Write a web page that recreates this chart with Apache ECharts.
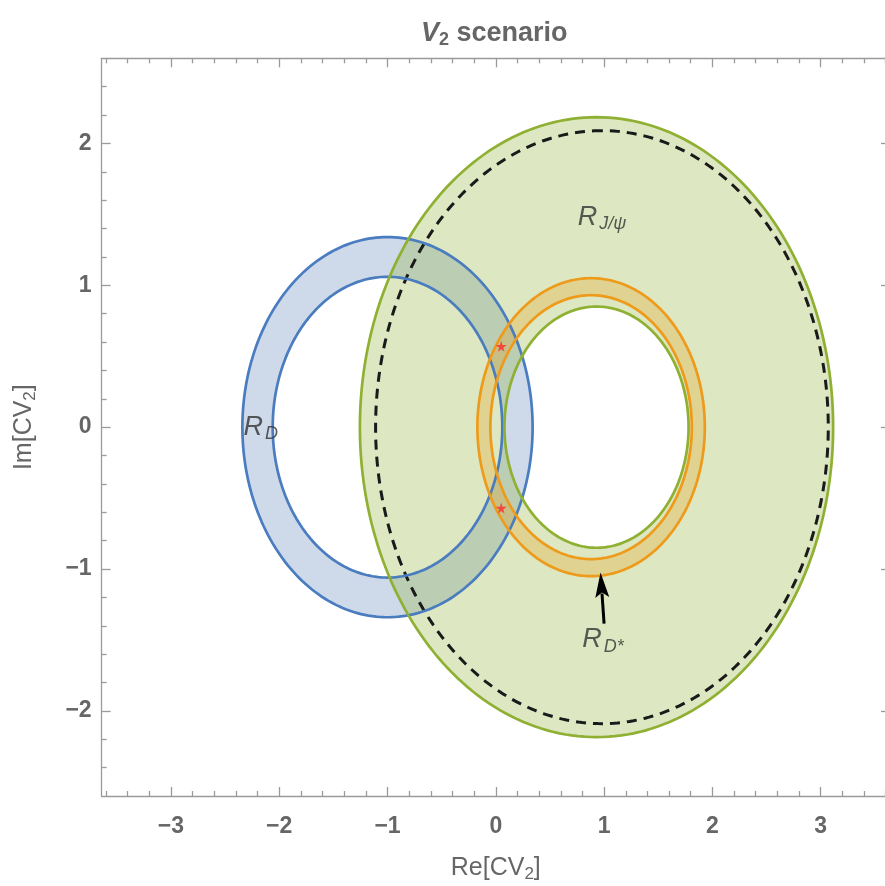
<!DOCTYPE html>
<html>
<head>
<meta charset="utf-8">
<script src="https://cdn.jsdelivr.net/npm/echarts@6/dist/echarts.min.js"></script>
<style>
html, body { margin: 0; padding: 0; background: #fff; }
#chart { width: 885px; height: 886px; }
</style>
</head>
<body>
<div id="chart"></div>
<script>
var xRange = [-3.64, 3.64];
var yRange = [-2.6, 2.6];
var xMajor = [-3, -2, -1, 0, 1, 2, 3];
var yMajor = [-2, -1, 0, 1, 2];

// annuli: centre, inner radius, outer radius  (R_D, R_J/psi, R_D*)
var ringCx = [-1.0, 0.93, 0.88];
var ringCy = [0, 0, 0];
var ringInner = [1.06, 0.85, 0.93];
var ringOuter = [1.34, 2.185, 1.05];

// dashed circle: centre x, centre y, radius
var dashCircle = [0.98, 0, 2.09];

var starX = [0.05, 0.05];
var starY = [0.57, -0.57];

var labelText = ['{r|R}{s|D}', '{r|R}{s|J/\u03c8}', '{r|R}{s|D*}'];
var labelX = [-2.17, 0.98, 0.99];
var labelY = [0, 1.48, -1.5];

// arrow: from (x, y) to (x, y)
var arrow = [1.0, -1.385, 0.967, -1.025];

var ringFill = ['rgba(94,129,181,0.3)', 'rgba(143,176,50,0.3)', 'rgba(230,158,30,0.3)'];
var ringLine = ['#4a7cc0', '#8fb032', '#ee9b1c'];

var minorX = [], minorY = [];
for (var k = -18; k <= 18; k++) { if (k % 5 !== 0) minorX.push(k / 5); }
for (var k = -12; k <= 12; k++) { if (k % 5 !== 0) minorY.push(k / 5); }

var frameColor = '#9a9a9a';
var labelStyle = { color: '#666', fontWeight: 'bold', fontSize: 23, fontFamily: 'Liberation Sans' };

function fmt(v) { return String(v).replace('-', '\u2212'); }

function axis(pos, range, ticks, len, withLine, labelMargin, extra) {
    var a = {
        type: 'value', position: pos, min: range[0], max: range[1],
        splitLine: { show: false },
        axisLine: { show: withLine, onZero: false, lineStyle: { color: frameColor, width: 1.3 } },
        axisTick: { show: true, inside: true, length: len, customValues: ticks, lineStyle: { color: frameColor, width: 1.3 } },
        axisLabel: labelMargin ? Object.assign({ show: true, customValues: ticks, formatter: fmt, margin: labelMargin }, labelStyle) : { show: false }
    };
    return Object.assign(a, extra || {});
}

var nameStyle = {
    color: '#666', fontSize: 25, fontFamily: 'Liberation Sans',
    rich: { s: { color: '#666', fontSize: 17, fontFamily: 'Liberation Sans', padding: [12, 0, 0, 0] } }
};

function circlePts(api, cx, cy, r) {
    var pts = [];
    for (var s = 0; s <= 240; s++) {
        var t = s / 240 * Math.PI * 2;
        pts.push(api.coord([cx + r * Math.cos(t), cy + r * Math.sin(t)]));
    }
    return pts;
}

// fills of the annuli (outer circle, then inner circle backwards leaves a hole)
function ringFillItem(params, api) {
    var k = api.value(4);
    var outer = circlePts(api, api.value(0), api.value(1), api.value(3));
    var inner = circlePts(api, api.value(0), api.value(1), api.value(2));
    return { type: 'polygon', shape: { points: outer.concat(inner.reverse()) }, style: { fill: ringFill[k], stroke: 'none' } };
}

function ringLineItem(params, api) {
    var k = api.value(4);
    var st = { fill: 'none', stroke: ringLine[k], lineWidth: 2.7 };
    return {
        type: 'group',
        children: [
            { type: 'polyline', shape: { points: circlePts(api, api.value(0), api.value(1), api.value(3)) }, style: st },
            { type: 'polyline', shape: { points: circlePts(api, api.value(0), api.value(1), api.value(2)) }, style: st }
        ]
    };
}

function dashItem(params, api) {
    var cx = api.value(0), cy = api.value(1), r = api.value(2);
    var pts = [];
    for (var s = 0; s <= 360; s++) {
        var t = Math.PI / 2 + s / 360 * Math.PI * 2;
        pts.push(api.coord([cx + r * Math.cos(t), cy + r * Math.sin(t)]));
    }
    return { type: 'polyline', shape: { points: pts }, style: { fill: 'none', stroke: '#1a1a1a', lineWidth: 3, lineDash: [10, 7] } };
}

function arrowItem(params, api) {
    var p0 = api.coord([api.value(0), api.value(1)]);
    var p1 = api.coord([api.value(2), api.value(3)]);
    var dx = p1[0] - p0[0], dy = p1[1] - p0[1];
    var len = Math.sqrt(dx * dx + dy * dy);
    var ux = dx / len, uy = dy / len;
    var hl = 25, hw = 7;
    var bx = p1[0] - ux * hl, by = p1[1] - uy * hl;
    return {
        type: 'group',
        children: [
            { type: 'line', shape: { x1: p0[0], y1: p0[1], x2: bx + ux * 4, y2: by + uy * 4 }, style: { stroke: '#000', lineWidth: 3 } },
            { type: 'polygon', shape: { points: [p1, [bx - uy * hw, by + ux * hw], [bx + ux * 5, by + uy * 5], [bx + uy * hw, by - ux * hw]] }, style: { fill: '#000' } }
        ]
    };
}

var ringData = ringCx.map(function (c, i) { return [c, ringCy[i], ringInner[i], ringOuter[i], i]; });

var chart = echarts.init(document.getElementById('chart'));
var option = {
    animation: false,
    title: {
        text: '{i|V}{s|2} scenario',
        left: 416, top: 13,
        textStyle: {
            color: '#666', fontSize: 27, fontWeight: 'bold', fontFamily: 'Liberation Sans',
            rich: {
                i: { color: '#666', fontSize: 27, fontWeight: 'bold', fontStyle: 'italic', fontFamily: 'Liberation Sans' },
                s: { color: '#666', fontSize: 18, fontWeight: 'bold', fontFamily: 'Liberation Sans', padding: [13, 0, 0, 0] }
            }
        }
    },
    grid: { left: 101.6, top: 58.3, width: 788.4, height: 737.7, outerBoundsMode: 'none', containLabel: false },
    xAxis: [
        axis('bottom', xRange, xMajor, 9, true, 19, {
            name: 'Re[CV{s|2}]', nameLocation: 'middle', nameGap: 58, nameTextStyle: nameStyle
        }),
        axis('bottom', xRange, minorX, 5, false, 0),
        axis('top', xRange, xMajor, 9, true, 0),
        axis('top', xRange, minorX, 5, false, 0)
    ],
    yAxis: [
        axis('left', yRange, yMajor, 9, true, 10, {
            name: 'Im[CV{s|2}]', nameLocation: 'middle', nameGap: 63, nameRotate: 90, nameTextStyle: nameStyle
        }),
        axis('left', yRange, minorY, 5, false, 0),
        axis('right', yRange, yMajor, 9, true, 0),
        axis('right', yRange, minorY, 5, false, 0)
    ],
    series: [
        {
            type: 'custom', name: 'ring fills', renderItem: ringFillItem, clip: true,
            encode: { x: 0, y: 1 }, data: ringData, z: 2
        },
        {
            type: 'custom', name: 'dashed', renderItem: dashItem, clip: true,
            encode: { x: 0, y: 1 }, data: [dashCircle], z: 3
        },
        {
            type: 'custom', name: 'ring lines', renderItem: ringLineItem, clip: true,
            encode: { x: 0, y: 1 }, data: ringData, z: 4
        },
        {
            type: 'custom', name: 'arrow', renderItem: arrowItem,
            encode: { x: [0, 2], y: [1, 3] }, data: [arrow], z: 5
        },
        {
            type: 'scatter', name: 'points',
            symbol: 'path://M50,0 L61,35 L98,35 L68,57 L79,91 L50,70 L21,91 L32,57 L2,35 L39,35 Z',
            symbolSize: 11,
            itemStyle: { color: '#ff2a2a' },
            data: starX.map(function (x, i) { return [x, starY[i]]; }),
            z: 6
        },
        {
            type: 'scatter', name: 'labels',
            symbolSize: 1,
            itemStyle: { color: 'rgba(0,0,0,0)' },
            label: {
                show: true, position: 'inside',
                formatter: function (p) { return labelText[p.dataIndex]; },
                rich: {
                    r: { color: '#333', fontSize: 27, fontStyle: 'italic', fontFamily: 'Liberation Sans' },
                    s: { color: '#333', fontSize: 18, fontStyle: 'italic', fontFamily: 'Liberation Sans', padding: [14, 0, 0, 2] }
                }
            },
            data: labelX.map(function (x, i) { return [x, labelY[i]]; }),
            z: 7
        }
    ]
};
chart.setOption(option);
</script>
</body>
</html>
